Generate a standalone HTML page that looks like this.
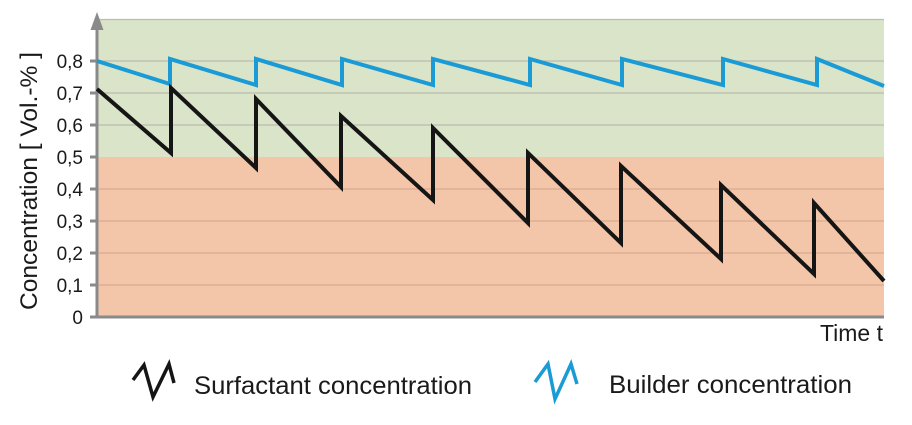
<!DOCTYPE html>
<html>
<head>
<meta charset="utf-8">
<style>
html,body{margin:0;padding:0;background:#fff;}
svg{display:block;}
text{font-family:"Liberation Sans",sans-serif;fill:#1a1a1a;}
</style>
</head>
<body>
<svg width="912" height="425" viewBox="0 0 912 425" xmlns="http://www.w3.org/2000/svg">
  <!-- backgrounds -->
  <rect x="97" y="19" width="787" height="138" fill="#d9e4c8"/>
  <rect x="97" y="157" width="787" height="160" fill="#f4c6a9"/>
  <!-- grid lines -->
  <g stroke="#bcbcb0" stroke-width="1.2">
    <line x1="97" y1="19.5" x2="884" y2="19.5"/>
    <line x1="97" y1="61" x2="884" y2="61"/>
    <line x1="97" y1="93" x2="884" y2="93"/>
    <line x1="97" y1="125" x2="884" y2="125"/>
  </g>
  <g stroke="#d8ab92" stroke-width="1.2">
    <line x1="97" y1="189" x2="884" y2="189"/>
    <line x1="97" y1="221" x2="884" y2="221"/>
    <line x1="97" y1="253" x2="884" y2="253"/>
    <line x1="97" y1="285" x2="884" y2="285"/>
  </g>
  <!-- axes -->
  <g stroke="#8a8a8a" stroke-width="3">
    <line x1="97" y1="26" x2="97" y2="318"/>
    <line x1="96" y1="317" x2="884" y2="317"/>
    <line x1="90" y1="61" x2="97" y2="61"/>
    <line x1="90" y1="93" x2="97" y2="93"/>
    <line x1="90" y1="125" x2="97" y2="125"/>
    <line x1="90" y1="157" x2="97" y2="157"/>
    <line x1="90" y1="189" x2="97" y2="189"/>
    <line x1="90" y1="221" x2="97" y2="221"/>
    <line x1="90" y1="253" x2="97" y2="253"/>
    <line x1="90" y1="285" x2="97" y2="285"/>
    <line x1="90" y1="317" x2="97" y2="317"/>
  </g>
  <polygon points="97,12 90.5,30 103.5,30" fill="#8a8a8a"/>
  <!-- tick labels -->
  <g font-size="19" text-anchor="end">
    <text x="83" y="68">0,8</text>
    <text x="83" y="100">0,7</text>
    <text x="83" y="132">0,6</text>
    <text x="83" y="164">0,5</text>
    <text x="83" y="196">0,4</text>
    <text x="83" y="228">0,3</text>
    <text x="83" y="260">0,2</text>
    <text x="83" y="292">0,1</text>
    <text x="83" y="324">0</text>
  </g>
  <!-- y axis label -->
  <text transform="translate(37,310) rotate(-90)" font-size="24" textLength="258" lengthAdjust="spacingAndGlyphs">Concentration [ Vol.-% ]</text>
  <!-- x axis label -->
  <text x="820" y="341" font-size="23" textLength="63" lengthAdjust="spacingAndGlyphs">Time t</text>
  <!-- builder (blue) -->
  <polyline fill="none" stroke="#1b9bd6" stroke-width="4" stroke-linejoin="miter" stroke-miterlimit="10"
    points="97,61 170,84 170,59 256,85 256,59 342,85 342,59 433,85 433,59 530,85 530,59 622,85 622,59 723,85 723,59 817,85 817,59 884,86"/>
  <!-- surfactant (black) -->
  <polyline fill="none" stroke="#151515" stroke-width="4" stroke-linejoin="miter" stroke-miterlimit="10"
    points="97,89 171,153 171,88 256,168 256,99 341,187 341,116 433,200 433,128 528,223 528,153 621,243 621,166 721,259 721,185 814,274 814,203 884,281"/>
  <!-- legend -->
  <polyline fill="none" stroke="#151515" stroke-width="3.5" stroke-linejoin="miter"
    points="133,380 144,365 153,397 169,364 174,383"/>
  <text x="194" y="394" font-size="25" textLength="278" lengthAdjust="spacingAndGlyphs">Surfactant concentration</text>
  <polyline fill="none" stroke="#1b9bd6" stroke-width="3.5" stroke-linejoin="miter"
    points="535,382 548,364 555,399 571,364 577,384"/>
  <text x="609" y="393" font-size="25" textLength="243" lengthAdjust="spacingAndGlyphs">Builder concentration</text>
</svg>
</body>
</html>
